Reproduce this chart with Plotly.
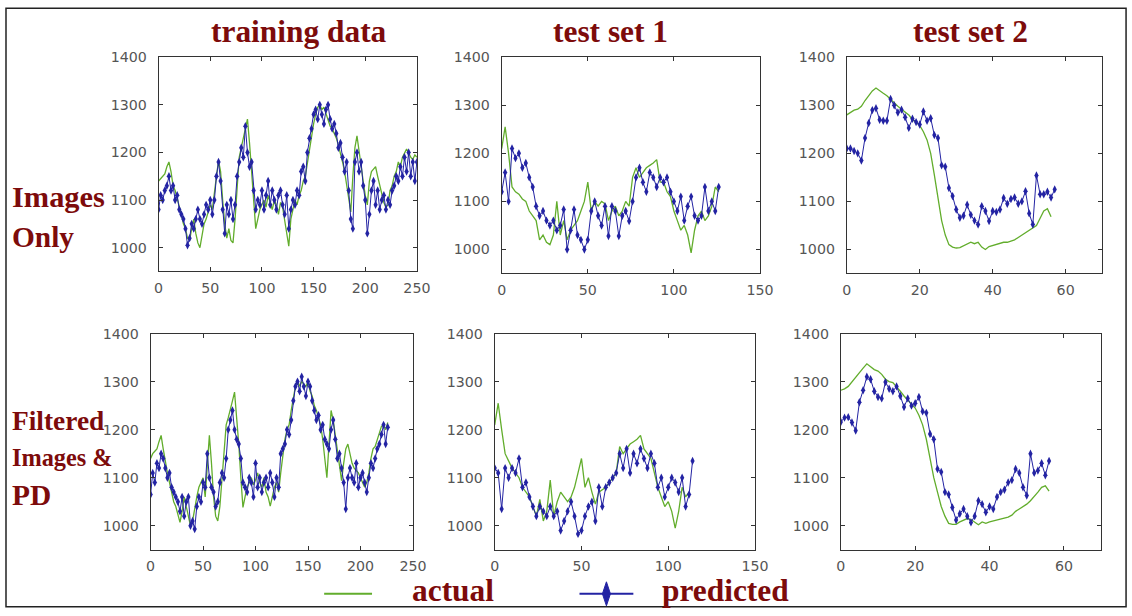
import plotly.graph_objects as go
from plotly.subplots import make_subplots

# The photographed page comes out slightly scaled (about 0.986) and offset,
# so positions below are given in picture pixels and mapped to the figure.
SCALE, OFF_X, OFF_Y = 0.986, 3.0, 7.8
W, H = 1146, 618

# ---------------- data ----------------
# training data, "Images Only" (sample index step 2)
train1_x = list(range(0, 251, 2))
train1_actual = [1140, 1145, 1150, 1155, 1170, 1180, 1160, 1130, 1120, 1105, 1090, 1070, 1050, 1040, 1020, 1015,
                 1040, 1060, 1030, 1010, 1000, 1030, 1050, 1060, 1075, 1090, 1080, 1110, 1150, 1183, 1160, 1100,
                 1050, 1020, 1040, 1015, 1010, 1060, 1120, 1190, 1210, 1230, 1250, 1270, 1220, 1160, 1100, 1040,
                 1060, 1080, 1090, 1100, 1085, 1110, 1095, 1080, 1100, 1090, 1070, 1095, 1085, 1060, 1030, 1003,
                 1060, 1080, 1100, 1090, 1110, 1120, 1140, 1150, 1180, 1210, 1230, 1260, 1280, 1295, 1300, 1290,
                 1295, 1280, 1270, 1255, 1250, 1240, 1230, 1215, 1200, 1180, 1160, 1130, 1100, 1075, 1150, 1210,
                 1235, 1200, 1170, 1140, 1110, 1090, 1140, 1160, 1165, 1170, 1150, 1130, 1110, 1095, 1085, 1090,
                 1120, 1130, 1150, 1160, 1180, 1170, 1190, 1200, 1207, 1200, 1190, 1185, 1195, 1190]
train1_pred = [1080, 1110, 1100, 1120, 1130, 1150, 1120, 1130, 1100, 1110, 1080, 1070, 1060, 1040, 1005, 1020,
               1050, 1040, 1060, 1080, 1060, 1050, 1070, 1090, 1080, 1100, 1070, 1100, 1150, 1180, 1140, 1080,
               1030, 1090, 1070, 1100, 1060, 1090, 1150, 1180, 1210, 1190, 1255, 1200, 1170, 1180, 1120, 1080,
               1100, 1090, 1120, 1080, 1110, 1140, 1090, 1120, 1100, 1080, 1110, 1120, 1090, 1070, 1110, 1040,
               1080, 1100, 1090, 1120, 1110, 1160, 1170, 1140, 1200, 1230, 1250, 1280, 1290, 1270, 1300, 1280,
               1260, 1290, 1300, 1270, 1250, 1260, 1240, 1210, 1220, 1190, 1160, 1180, 1120, 1060, 1040, 1180,
               1200, 1160, 1180, 1130, 1100, 1030, 1070, 1120, 1140, 1090, 1120, 1080, 1100, 1110, 1080, 1100,
               1090, 1120, 1130, 1150, 1140, 1170, 1150, 1190, 1160, 1200, 1150, 1180, 1140, 1180]

# test set 1, "Images Only"
test1a_x = list(range(0, 127, 2))
test1a_actual = [1210, 1255, 1200, 1130, 1120, 1115, 1105, 1100, 1080, 1070, 1060, 1020, 1030, 1015, 1010, 1030,
                 1100, 1030, 1060, 1020, 1040, 1050, 1060, 1080, 1100, 1140, 1080, 1100, 1090, 1100, 1095, 1060,
                 1080, 1090, 1070, 1080, 1100, 1090, 1150, 1170, 1150, 1160, 1170, 1175, 1180, 1187, 1140, 1140,
                 1120, 1110, 1080, 1060, 1040, 1050, 1030, 993, 1040, 1070, 1080, 1060, 1070, 1090, 1130, 1120]
test1a_pred = [1120, 1160, 1100, 1210, 1190, 1200, 1170, 1180, 1150, 1130, 1090, 1070, 1080, 1060, 1050, 1060,
               1040, 1050, 1083, 1000, 1040, 1083, 1030, 1020, 1000, 1020, 1080, 1100, 1070, 1050, 1090, 1028,
               1090, 1080, 1028, 1070, 1080, 1059, 1100, 1150, 1170, 1140, 1120, 1160, 1150, 1130, 1150, 1140,
               1150, 1120, 1100, 1080, 1110, 1060, 1090, 1110, 1070, 1060, 1070, 1130, 1080, 1100, 1080, 1130]

# test set 2, "Images Only"
test2a_actual_x = list(range(0, 57))
test2a_actual = [1280, 1285, 1290, 1292, 1298, 1310, 1320, 1330, 1336, 1330, 1325, 1320, 1312, 1305, 1298, 1292,
                 1285, 1280, 1270, 1265, 1258, 1245, 1228, 1200, 1155, 1104, 1060, 1030, 1010, 1005, 1003, 1004,
                 1008, 1012, 1015, 1012, 1015, 1005, 1000, 1006, 1008, 1010, 1012, 1015, 1015, 1018, 1020, 1025,
                 1030, 1035, 1040, 1045, 1050, 1065, 1080, 1085, 1068]
test2a_pred_x = list(range(0, 58))
test2a_pred = [1210, 1210, 1205, 1200, 1185, 1232, 1263, 1290, 1294, 1270, 1268, 1268, 1313, 1300, 1285, 1291,
               1275, 1253, 1272, 1265, 1260, 1287, 1268, 1273, 1238, 1232, 1175, 1172, 1128, 1111, 1083, 1066,
               1070, 1093, 1072, 1060, 1052, 1090, 1080, 1059, 1080, 1078, 1083, 1107, 1095, 1105, 1108, 1095,
               1100, 1121, 1075, 1052, 1154, 1115, 1115, 1120, 1108, 1125]

# training data, "Filtered Images & PD"
train2_x = list(range(0, 227, 2))
train2_actual = [1140, 1150, 1155, 1160, 1175, 1188, 1160, 1130, 1110, 1090, 1070, 1050, 1040, 1020, 1007, 1030,
                 1060, 1040, 1020, 1000, 1010, 1040, 1060, 1080, 1090, 1100, 1060, 1120, 1188, 1130, 1060, 1020,
                 1010, 1040, 1100, 1160, 1210, 1225, 1240, 1260, 1278, 1230, 1170, 1100, 1038, 1060, 1080, 1090,
                 1100, 1085, 1095, 1110, 1090, 1080, 1100, 1070, 1060, 1041, 1060, 1080, 1090, 1070, 1110, 1150,
                 1180, 1200, 1210, 1240, 1270, 1290, 1303, 1290, 1300, 1295, 1290, 1300, 1280, 1270, 1250, 1240,
                 1225, 1210, 1180, 1140, 1100, 1170, 1240, 1220, 1190, 1150, 1120, 1094, 1130, 1160, 1170, 1150,
                 1130, 1120, 1116, 1110, 1100, 1090, 1080, 1090, 1110, 1140, 1160, 1165, 1180, 1190, 1207, 1210,
                 1200, 1215]
train2_pred = [1065, 1110, 1090, 1130, 1120, 1150, 1140, 1120, 1100, 1110, 1080, 1070, 1060, 1050, 1030, 1060,
               1020, 1050, 1060, 1000, 1010, 993, 1040, 1060, 1050, 1090, 1080, 1150, 1100, 1080, 1070, 1040,
               1050, 1090, 1110, 1100, 1140, 1200, 1220, 1240, 1200, 1180, 1170, 1140, 1090, 1080, 1070, 1100,
               1090, 1060, 1130, 1080, 1100, 1070, 1090, 1100, 1080, 1110, 1090, 1060, 1100, 1080, 1150, 1160,
               1170, 1200, 1190, 1220, 1260, 1290, 1300, 1280, 1310, 1290, 1270, 1300, 1290, 1260, 1240, 1220,
               1230, 1200, 1210, 1180, 1170, 1160, 1200, 1220, 1180, 1140, 1150, 1120, 1090, 1035, 1100, 1120,
               1100, 1090, 1130, 1080, 1100, 1110, 1090, 1070, 1100, 1130, 1120, 1140, 1160, 1170, 1190, 1210,
               1170, 1205]

# test set 1, "Filtered Images & PD"
test1b_actual_x = list(range(0, 113, 2))
test1b_actual = [1210, 1255, 1200, 1150, 1135, 1120, 1110, 1100, 1080, 1070, 1060, 1040, 1020, 1055, 1010, 1030,
                 1095, 1020, 1050, 1070, 1060, 1050, 1060, 1080, 1110, 1140, 1080, 1100, 1070, 1045, 1070, 1075,
                 1080, 1090, 1100, 1110, 1165, 1150, 1160, 1170, 1175, 1180, 1188, 1160, 1150, 1140, 1110, 1080,
                 1060, 1040, 1050, 1030, 995, 1030, 1080, 1060, 1070]
test1b_pred_x = list(range(0, 115, 2))
test1b_pred = [1120, 1110, 1035, 1120, 1100, 1120, 1110, 1140, 1080, 1090, 1060, 1040, 1020, 1040, 1030, 1020,
               1040, 1020, 1030, 990, 1010, 1030, 1050, 1020, 983, 990, 1020, 1040, 1050, 1010, 1080, 1040,
               1080, 1090, 1100, 1110, 1150, 1120, 1160, 1110, 1150, 1130, 1160, 1140, 1120, 1150, 1130, 1080,
               1100, 1060, 1080, 1100, 1090, 1070, 1100, 1040, 1065, 1135]

# test set 2, "Filtered Images & PD"
test2b_x = list(range(0, 57))
test2b_actual = [1282, 1285, 1290, 1300, 1310, 1320, 1328, 1337, 1330, 1325, 1322, 1315, 1305, 1300, 1298, 1290,
                 1280, 1270, 1262, 1255, 1245, 1230, 1210, 1180, 1140, 1100, 1070, 1040, 1020, 1005, 1003, 1003,
                 1008, 1012, 1015, 1013, 1008, 1002, 1008, 1005, 1008, 1010, 1012, 1015, 1016, 1018, 1022, 1030,
                 1035, 1040, 1045, 1052, 1060, 1070, 1080, 1083, 1072]
test2b_pred = [1216, 1225, 1226, 1215, 1198, 1257, 1282, 1310, 1305, 1280, 1268, 1265, 1299, 1285, 1280, 1290,
               1270, 1247, 1265, 1250, 1255, 1268, 1238, 1235, 1191, 1180, 1118, 1112, 1070, 1065, 1038, 1012,
               1025, 1035, 1020, 1007, 1020, 1052, 1045, 1028, 1040, 1035, 1060, 1070, 1075, 1090, 1095, 1118,
               1110, 1080, 1063, 1150, 1110, 1115, 1130, 1105, 1135]

col_titles = ["training data", "test set 1", "test set 2"]
row_labels = [["Images", "Only"], ["Filtered", "Images &", "PD"]]
legend_labels = ["actual", "predicted"]
x_ranges = [[0, 250], [0, 150], [0, 70]]
x_dticks = [50, 50, 20]
y_range = [950, 1400]
y_ticks = [1000, 1100, 1200, 1300, 1400]

panels = [
    (train1_x, train1_actual, train1_x, train1_pred),
    (test1a_x, test1a_actual, test1a_x, test1a_pred),
    (test2a_actual_x, test2a_actual, test2a_pred_x, test2a_pred),
    (train2_x, train2_actual, train2_x, train2_pred),
    (test1b_actual_x, test1b_actual, test1b_pred_x, test1b_pred),
    (test2b_x, test2b_actual, test2b_x, test2b_pred),
]

# ---------------- style ----------------
GREEN = "#62ad2c"
BLUE = "#2323a3"
DARKRED = "#7d0b0b"
TICK = "#555555"
SERIF = "Liberation Serif, Times New Roman, serif"
SANS = "DejaVu Sans, Arial, sans-serif"


def fs(s):
    return round(s / SCALE, 1)


def px(x):
    """picture pixel x -> paper fraction"""
    return min(max(((x - OFF_X) / SCALE) / W, 0.0005), 0.9995)


def py(y):
    """picture pixel y -> paper fraction (from bottom)"""
    return min(max(1 - ((y - OFF_Y) / SCALE) / H, 0.0005), 0.9995)


# picture-pixel boxes of the six plot areas (left, right, top, bottom)
boxes = [(157, 416, 57, 271), (501, 760, 57, 273), (847, 1103, 57, 273),
         (149, 412, 333, 549), (494, 755, 333, 549), (841, 1102, 333, 549)]

fig = make_subplots(rows=2, cols=3)

for i, (xa, ya, xp, yp) in enumerate(panels):
    r, c = i // 3 + 1, i % 3 + 1
    fig.add_trace(go.Scatter(x=xa, y=ya, mode="lines", line=dict(color=GREEN, width=1.3),
                             showlegend=False, hoverinfo="skip"), row=r, col=c)
    fig.add_trace(go.Scatter(x=xp, y=yp, mode="lines+markers", line=dict(color=BLUE, width=1),
                             marker=dict(symbol="diamond-tall", size=6, color=BLUE),
                             showlegend=False, hoverinfo="skip"), row=r, col=c)

for i, (l, rgt, t, b) in enumerate(boxes):
    n = "" if i == 0 else str(i + 1)
    c = i % 3
    fig.layout["xaxis" + n].update(
        domain=[px(l), px(rgt)], range=x_ranges[c], dtick=x_dticks[c], tick0=0,
        showgrid=False, zeroline=False, showline=True, mirror="ticks", linecolor="#333333",
        linewidth=1, ticks="inside", ticklen=4, tickcolor="#333333", ticklabelstandoff=3,
        tickfont=dict(family=SANS, size=fs(14), color=TICK))
    fig.layout["yaxis" + n].update(
        domain=[py(b), py(t)], range=y_range, tickvals=y_ticks,
        showgrid=False, zeroline=False, showline=True, mirror="ticks", linecolor="#333333",
        linewidth=1, ticks="inside", ticklen=4, tickcolor="#333333", ticklabelstandoff=8,
        tickfont=dict(family=SANS, size=fs(14), color=TICK))

ann = []
title_cx = [298, 610, 971]
for txt, cx in zip(col_titles, title_cx):
    ann.append(dict(text="<b>" + txt + "</b>", x=px(cx), y=py(31), xref="paper", yref="paper",
                    xanchor="center", yanchor="middle", showarrow=False,
                    font=dict(family=SERIF, size=fs(31), color=DARKRED)))
row_y = [[197, 237], [420, 457, 494]]
row_sizes = [[30, 29], [27, 24, 29]]
for labels, ys, sz in zip(row_labels, row_y, row_sizes):
    for txt, yy, s in zip(labels, ys, sz):
        ann.append(dict(text="<b>" + txt + "</b>", x=px(8), y=py(yy), xref="paper", yref="paper",
                        xanchor="left", yanchor="middle", showarrow=False,
                        font=dict(family=SERIF, size=fs(s), color=DARKRED)))
for txt, lx in zip(legend_labels, [409, 660]):
    ann.append(dict(text="<b>" + txt + "</b>", x=px(lx), y=py(590), xref="paper", yref="paper",
                    xanchor="left", yanchor="middle", showarrow=False,
                    font=dict(family=SERIF, size=fs(31), color=DARKRED)))

shapes = [
    dict(type="rect", xref="paper", yref="paper", x0=px(4), x1=px(1127), y0=py(606), y1=py(5),
         line=dict(color="#222222", width=1.5), fillcolor="rgba(0,0,0,0)"),
    dict(type="line", xref="paper", yref="paper", x0=px(323), x1=px(371), y0=py(593), y1=py(593),
         line=dict(color=GREEN, width=2)),
    dict(type="line", xref="paper", yref="paper", x0=px(579), x1=px(633), y0=py(593), y1=py(593),
         line=dict(color=BLUE, width=2)),
    dict(type="path", xref="paper", yref="paper",
         path=f"M {px(606)},{py(581)} L {px(610)},{py(593)} L {px(606)},{py(605)} L {px(602)},{py(593)} Z",
         fillcolor=BLUE, line=dict(color=BLUE, width=1)),
]

fig.update_layout(width=W, height=H, autosize=False, margin=dict(l=0, r=0, t=0, b=0),
                  paper_bgcolor="white", plot_bgcolor="white",
                  annotations=ann, shapes=shapes, showlegend=False)

pin = ("document.documentElement.style.overflow='hidden';"
       "document.body.style.margin='0';document.body.style.padding='0';"
       "document.body.style.overflow='hidden';")
fig.write_html("out.html", post_script=pin,
               config={"displayModeBar": False, "responsive": False})
